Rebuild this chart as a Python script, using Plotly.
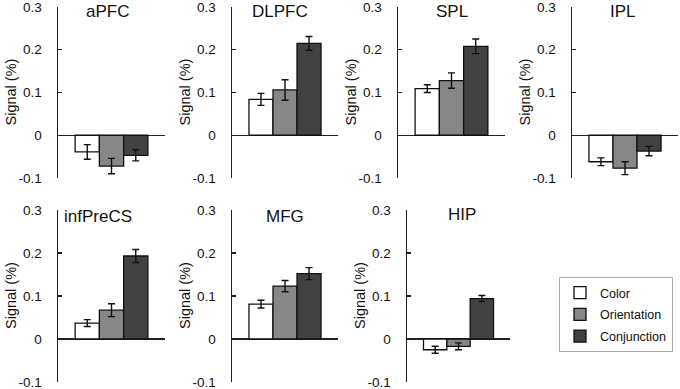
import plotly.graph_objects as go

regions = ["aPFC", "DLPFC", "SPL", "IPL", "infPreCS", "MFG", "HIP"]
series = ["Color", "Orientation", "Conjunction"]
color_vals = [-0.039, 0.084, 0.109, -0.062, 0.037, 0.081, -0.025]
color_err = [0.017, 0.014, 0.009, 0.009, 0.008, 0.009, 0.008]
orient_vals = [-0.072, 0.106, 0.128, -0.077, 0.067, 0.123, -0.017]
orient_err = [0.018, 0.024, 0.018, 0.015, 0.015, 0.013, 0.008]
conj_vals = [-0.047, 0.215, 0.208, -0.037, 0.193, 0.152, 0.094]
conj_err = [0.013, 0.016, 0.017, 0.011, 0.015, 0.014, 0.007]
tick_vals = [-0.1, 0, 0.1, 0.2, 0.3]
tick_text = ["-0.1", "0", "0.1", "0.2", "0.3"]
y_title = "Signal (%)"

values = [color_vals, orient_vals, conj_vals]
errors = [color_err, orient_err, conj_err]

# layout (pixels)
W, H = 680, 389
x_px = [(58, 165), (232, 338), (398, 505), (572, 678), (58, 165), (232, 338), (407, 510)]
y_px = [(7, 178)] * 4 + [(210, 382)] * 3
title_px = [(107, 12), (280, 12), (452, 12), (623, 12), (98, 216), (285, 216), (462, 214)]
fills = ["#ffffff", "#878787", "#424242"]

FONT = "Liberation Sans, Arial, sans-serif"
fig = go.Figure()
annotations = []
layout_axes = {}
for i, reg in enumerate(regions):
    n = "" if i == 0 else str(i + 1)
    xa, ya = "x" + n, "y" + n
    for s in range(3):
        fig.add_trace(go.Bar(
            x=[reg], y=[values[s][i]], name=series[s],
            xaxis=xa, yaxis=ya,
            marker=dict(color=fills[s], line=dict(color="#111111", width=1.3)),
            error_y=dict(type="data", array=[errors[s][i]], color="#111111",
                         thickness=1.4, width=3.5),
            legendgroup=series[s], showlegend=(i == 0),
        ))
    x0, x1 = x_px[i]
    yt, yb = y_px[i]
    layout_axes["xaxis" + n] = dict(
        domain=[x0 / W, x1 / W], anchor=ya, showline=False, showticklabels=False,
        ticks="", showgrid=False, zeroline=False, fixedrange=True, automargin=False,
    )
    layout_axes["yaxis" + n] = dict(
        domain=[1 - yb / H, 1 - yt / H], anchor=xa, range=[-0.1, 0.3],
        tickvals=tick_vals, ticktext=tick_text, ticks="inside", ticklen=4,
        tickwidth=1.3, tickcolor="#222222",
        showline=True, linecolor="#222222", linewidth=1.5,
        showgrid=False, zeroline=True, zerolinecolor="#222222", zerolinewidth=1.2,
        tickfont=dict(family=FONT, size=13.5, color="#111111"),
        ticklabelstandoff=12, ticklabeloverflow="allow",
        layer="above traces", automargin=False, fixedrange=True,
    )
    annotations.append(dict(
        x=x0 / W, y=1 - (yt + yb) / 2 / H, xref="paper", yref="paper",
        xshift=-47, text=y_title, textangle=-90, showarrow=False,
        xanchor="center", yanchor="middle",
        font=dict(family=FONT, size=14.5, color="#111111"),
    ))
    tx, ty = title_px[i]
    annotations.append(dict(
        x=tx / W, y=1 - ty / H, xref="paper", yref="paper", text=reg,
        showarrow=False, xanchor="center", yanchor="middle",
        font=dict(family=FONT, size=17, color="#111111"),
    ))

fig.update_layout(
    width=W, height=H, margin=dict(l=0, r=0, t=0, b=0),
    paper_bgcolor="white", plot_bgcolor="white",
    barmode="group", bargap=0.32, bargroupgap=0,
    annotations=annotations,
    legend=dict(x=616 / W, y=1 - 277 / H, xanchor="center", yanchor="top",
                bordercolor="#aaaaaa", borderwidth=1, bgcolor="white",
                font=dict(family=FONT, size=12.5, color="#111111"),
                itemwidth=30, tracegroupgap=2.5),
    **layout_axes,
)
fig.write_html("out.html", config={"displayModeBar": False, "staticPlot": True},
               post_script="document.body.style.margin='0px';"
                           "document.body.style.overflow='hidden';")
